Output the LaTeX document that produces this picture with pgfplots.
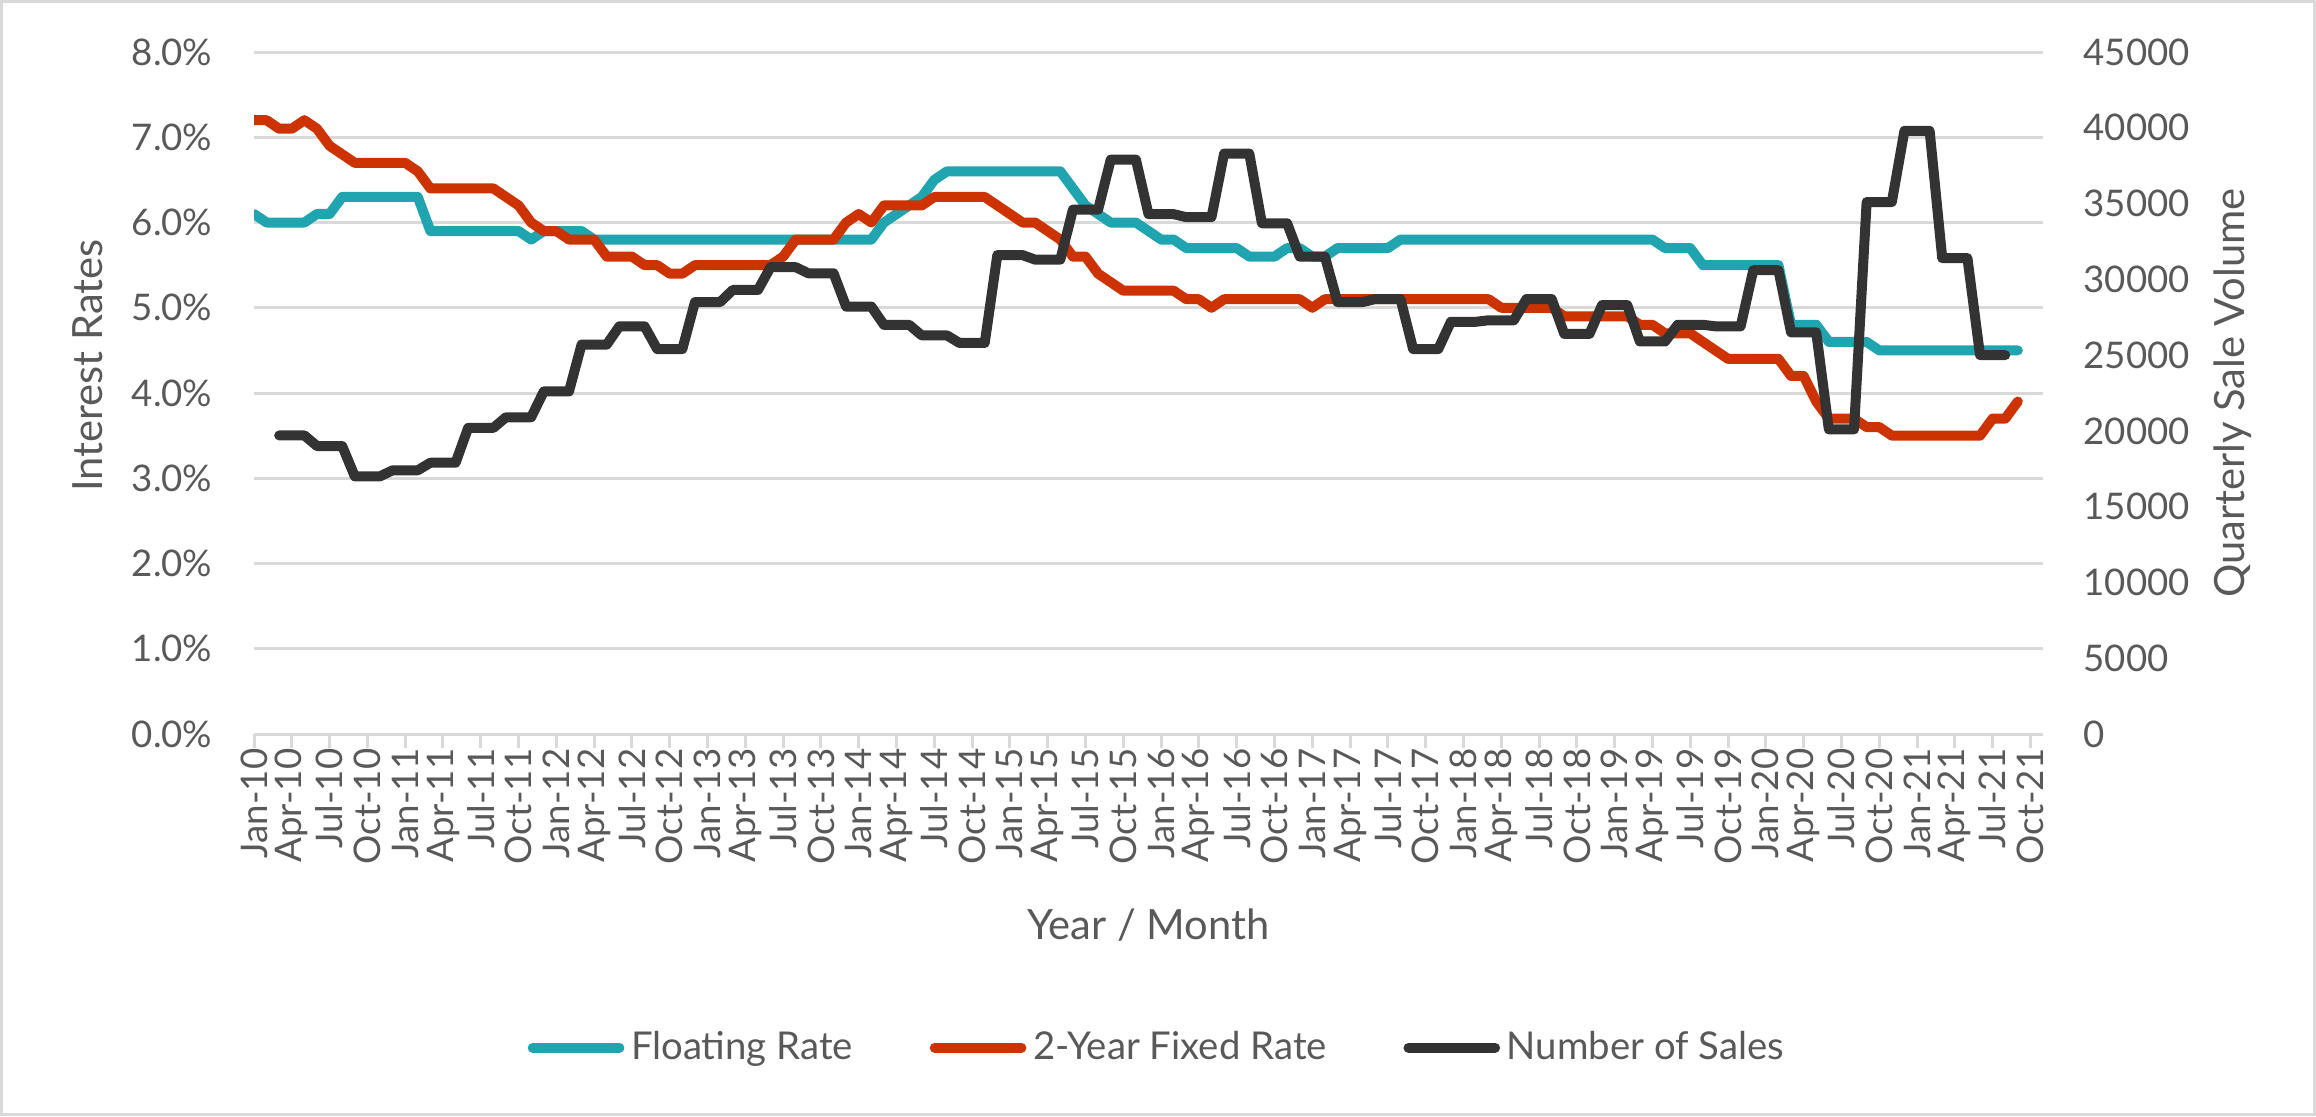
\documentclass[border=0pt]{standalone}
\usepackage{fontspec}
\setmainfont{Lato}
\usepackage{pgfplots}
\usepackage{pgfplotstable}
\pgfplotsset{compat=1.18}

\definecolor{floatc}{HTML}{20A4B0}
\definecolor{fixedc}{HTML}{CC3300}
\definecolor{salesc}{HTML}{333333}
\definecolor{txt}{HTML}{595959}
\definecolor{gridc}{HTML}{D9D9D9}

% monthly rates, month 0 = Jan-10
\pgfplotstableread{
i fl fx
0 6.1 7.2
1 6.0 7.2
2 6.0 7.1
3 6.0 7.1
4 6.0 7.2
5 6.1 7.1
6 6.1 6.9
7 6.3 6.8
8 6.3 6.7
9 6.3 6.7
10 6.3 6.7
11 6.3 6.7
12 6.3 6.7
13 6.3 6.6
14 5.9 6.4
15 5.9 6.4
16 5.9 6.4
17 5.9 6.4
18 5.9 6.4
19 5.9 6.4
20 5.9 6.3
21 5.9 6.2
22 5.8 6.0
23 5.9 5.9
24 5.9 5.9
25 5.9 5.8
26 5.9 5.8
27 5.8 5.8
28 5.8 5.6
29 5.8 5.6
30 5.8 5.6
31 5.8 5.5
32 5.8 5.5
33 5.8 5.4
34 5.8 5.4
35 5.8 5.5
36 5.8 5.5
37 5.8 5.5
38 5.8 5.5
39 5.8 5.5
40 5.8 5.5
41 5.8 5.5
42 5.8 5.6
43 5.8 5.8
44 5.8 5.8
45 5.8 5.8
46 5.8 5.8
47 5.8 6.0
48 5.8 6.1
49 5.8 6.0
50 6.0 6.2
51 6.1 6.2
52 6.2 6.2
53 6.3 6.2
54 6.5 6.3
55 6.6 6.3
56 6.6 6.3
57 6.6 6.3
58 6.6 6.3
59 6.6 6.2
60 6.6 6.1
61 6.6 6.0
62 6.6 6.0
63 6.6 5.9
64 6.6 5.8
65 6.4 5.6
66 6.2 5.6
67 6.1 5.4
68 6.0 5.3
69 6.0 5.2
70 6.0 5.2
71 5.9 5.2
72 5.8 5.2
73 5.8 5.2
74 5.7 5.1
75 5.7 5.1
76 5.7 5.0
77 5.7 5.1
78 5.7 5.1
79 5.6 5.1
80 5.6 5.1
81 5.6 5.1
82 5.7 5.1
83 5.7 5.1
84 5.6 5.0
85 5.6 5.1
86 5.7 5.1
87 5.7 5.1
88 5.7 5.1
89 5.7 5.1
90 5.7 5.1
91 5.8 5.1
92 5.8 5.1
93 5.8 5.1
94 5.8 5.1
95 5.8 5.1
96 5.8 5.1
97 5.8 5.1
98 5.8 5.1
99 5.8 5.0
100 5.8 5.0
101 5.8 5.0
102 5.8 5.0
103 5.8 5.0
104 5.8 4.9
105 5.8 4.9
106 5.8 4.9
107 5.8 4.9
108 5.8 4.9
109 5.8 4.9
110 5.8 4.8
111 5.8 4.8
112 5.7 4.7
113 5.7 4.7
114 5.7 4.7
115 5.5 4.6
116 5.5 4.5
117 5.5 4.4
118 5.5 4.4
119 5.5 4.4
120 5.5 4.4
121 5.5 4.4
122 4.8 4.2
123 4.8 4.2
124 4.8 3.9
125 4.6 3.7
126 4.6 3.7
127 4.6 3.7
128 4.6 3.6
129 4.5 3.6
130 4.5 3.5
131 4.5 3.5
132 4.5 3.5
133 4.5 3.5
134 4.5 3.5
135 4.5 3.5
136 4.5 3.5
137 4.5 3.5
138 4.5 3.7
139 4.5 3.7
140 4.5 3.9
}\rates

% quarterly sales, repeated over the three months
\pgfplotstableread{
i s
2 19700
3 19700
4 19700
5 19000
6 19000
7 19000
8 17000
9 17000
10 17000
11 17400
12 17400
13 17400
14 17900
15 17900
16 17900
17 20200
18 20200
19 20200
20 20900
21 20900
22 20900
23 22600
24 22600
25 22600
26 25700
27 25700
28 25700
29 26900
30 26900
31 26900
32 25400
33 25400
34 25400
35 28500
36 28500
37 28500
38 29300
39 29300
40 29300
41 30800
42 30800
43 30800
44 30400
45 30400
46 30400
47 28200
48 28200
49 28200
50 27000
51 27000
52 27000
53 26300
54 26300
55 26300
56 25800
57 25800
58 25800
59 31600
60 31600
61 31600
62 31300
63 31300
64 31300
65 34600
66 34600
67 34600
68 37900
69 37900
70 37900
71 34300
72 34300
73 34300
74 34100
75 34100
76 34100
77 38300
78 38300
79 38300
80 33700
81 33700
82 33700
83 31500
84 31500
85 31500
86 28500
87 28500
88 28500
89 28700
90 28700
91 28700
92 25400
93 25400
94 25400
95 27200
96 27200
97 27200
98 27300
99 27300
100 27300
101 28700
102 28700
103 28700
104 26400
105 26400
106 26400
107 28300
108 28300
109 28300
110 25900
111 25900
112 25900
113 27000
114 27000
115 27000
116 26900
117 26900
118 26900
119 30600
120 30600
121 30600
122 26500
123 26500
124 26500
125 20100
126 20100
127 20100
128 35100
129 35100
130 35100
131 39800
132 39800
133 39800
134 31400
135 31400
136 31400
137 25000
138 25000
139 25000
}\sales

\pgfplotsset{
  base/.style={
    scale only axis, width=536.7bp, height=204.6bp,
    at={(76.2bp,114.6bp)}, anchor=south west,
    xmin=0, xmax=142, ymin=0,
    /pgf/number format/assume math mode=true,
    tick label style={font=\fontsize{11bp}{13bp}\selectfont, text=txt},
    every axis plot/.append style={line width=3bp, line join=round, line cap=round, mark=none},
  }
}

\begin{document}
\begin{tikzpicture}
\useasboundingbox (0,0) rectangle (694.8bp,334.8bp);
\draw[gridc, line width=0.9bp] (0.45bp,0.45bp) rectangle (694.35bp,334.35bp);

\begin{axis}[base,
  ymax=8,
  axis x line*=bottom, axis y line*=left,
  y axis line style={draw=none},
  x axis line style={draw=gridc, line width=0.9bp},
  xtick={0,3,...,141},
  xticklabels={Jan-10,Apr-10,Jul-10,Oct-10,Jan-11,Apr-11,Jul-11,Oct-11,
    Jan-12,Apr-12,Jul-12,Oct-12,Jan-13,Apr-13,Jul-13,Oct-13,
    Jan-14,Apr-14,Jul-14,Oct-14,Jan-15,Apr-15,Jul-15,Oct-15,
    Jan-16,Apr-16,Jul-16,Oct-16,Jan-17,Apr-17,Jul-17,Oct-17,
    Jan-18,Apr-18,Jul-18,Oct-18,Jan-19,Apr-19,Jul-19,Oct-19,
    Jan-20,Apr-20,Jul-20,Oct-20,Jan-21,Apr-21,Jul-21,Oct-21},
  xtick align=outside,
  xtick style={draw=gridc, line width=0.9bp},
  major tick length=4.2bp,
  xticklabel style={rotate=90, anchor=east, inner sep=0pt},
  ytick={0,1,...,8},
  ytick style={draw=none},
  yticklabel={\pgfmathprintnumber[fixed,fixed zerofill,precision=1]{\tick}\%},
  yticklabel style={inner sep=0pt, xshift=-12.3bp},
  ymajorgrids, grid style={draw=gridc, line width=0.9bp},
  xlabel={Year / Month},
  every axis x label/.style={at={(axis description cs:0.5,-0.28)}, anchor=center,
    font=\fontsize{12.5bp}{15bp}\selectfont, text=txt},
  ylabel={Interest Rates},
  every axis y label/.style={at={(axis description cs:-0.0928,0.54)}, rotate=90, anchor=center,
    font=\fontsize{12.5bp}{15bp}\selectfont, text=txt},
]
\addplot[floatc] table[x=i, y=fl]{\rates};
\addplot[fixedc] table[x=i, y=fx]{\rates};
\end{axis}

\begin{axis}[base,
  ymax=45000,
  axis x line=none, axis y line*=right,
  y axis line style={draw=none}, ytick style={draw=none},
  ytick={0,5000,...,45000},
  scaled y ticks=false,
  yticklabel style={/pgf/number format/1000 sep=, inner sep=0pt, xshift=12bp},
  ylabel={Quarterly Sale Volume},
  every axis y label/.style={at={(axis description cs:1.106,0.5)}, rotate=90, anchor=center,
    font=\fontsize{12.5bp}{15bp}\selectfont, text=txt},
  legend columns=3,
  legend style={at={(axis description cs:0.506,-0.46)}, anchor=center, draw=none, fill=none,
    font=\fontsize{11.5bp}{14bp}\selectfont, text=txt,
    /tikz/every even column/.append style={column sep=21bp}},
  legend image code/.code={\draw[#1, line width=3bp, line cap=round] (0bp,0bp) -- (26bp,0bp);},
]
\addlegendimage{floatc}
\addlegendentry{Floating Rate}
\addlegendimage{fixedc}
\addlegendentry{2-Year Fixed Rate}
\addplot[salesc] table[x=i, y=s]{\sales};
\addlegendentry{Number of Sales}
\end{axis}
\end{tikzpicture}
\end{document}
